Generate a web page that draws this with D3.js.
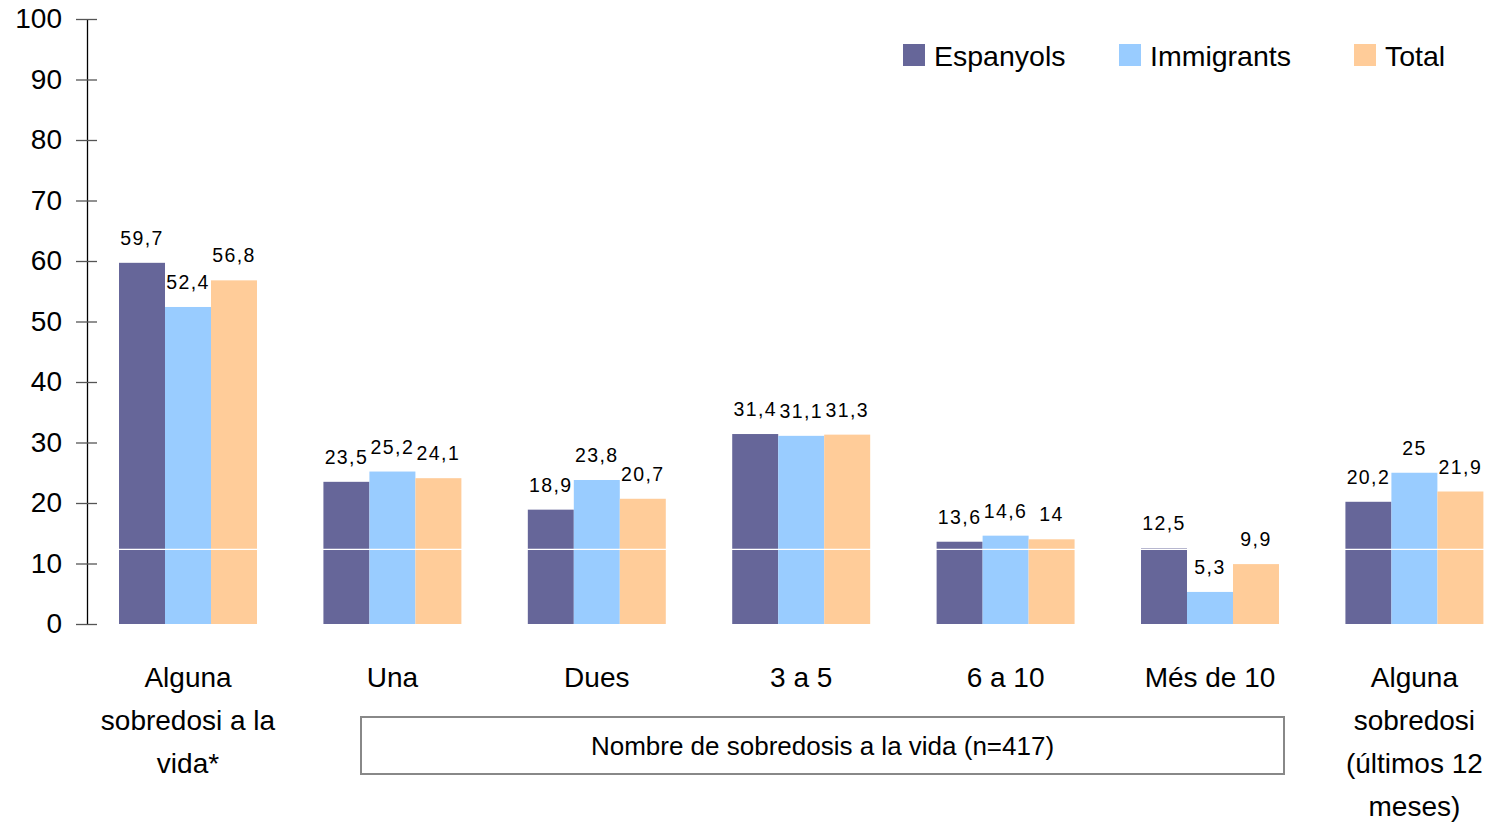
<!DOCTYPE html>
<html><head><meta charset="utf-8">
<script src="https://cdn.jsdelivr.net/npm/d3@7"></script>
<style>body{margin:0;background:#fff}svg{display:block}text{font-family:"Liberation Sans",Arial,sans-serif;fill:#000}</style>
</head><body><svg id="c" width="1499" height="824"></svg>
<script>
const categories = [
  ["Alguna","sobredosi a la","vida*"],
  ["Una"],["Dues"],["3 a 5"],["6 a 10"],["Més de 10"],
  ["Alguna","sobredosi","(últimos 12","meses)"]
];
const seriesNames = ["Espanyols","Immigrants","Total"];
const espanyols = [59.7,23.5,18.9,31.4,13.6,12.5,20.2];
const immigrants = [52.4,25.2,23.8,31.1,14.6,5.3,25];
const total = [56.8,24.1,20.7,31.3,14,9.9,21.9];
const yTicks = [0,10,20,30,40,50,60,70,80,90,100];
const boxLabel = "Nombre de sobredosis a la vida (n=417)";
const whiteLineValue = 12.35;
const colors = ["#666699","#99CCFF","#FFCC99"];
const seriesVals = [espanyols, immigrants, total];

const svg = d3.select("#c");
const y = d3.scaleLinear().domain([0,100]).range([624,19]);
const x0 = d3.scaleBand().domain(d3.range(categories.length)).range([85.8,1516.6]).paddingInner(0.325).paddingOuter(0.1625);
const x1 = d3.scaleBand().domain(d3.range(seriesNames.length)).range([0,x0.bandwidth()]);

// bars
const g = svg.append("g");
categories.forEach((c,i)=>{
  seriesVals.forEach((vals,s)=>{
    g.append("rect")
      .attr("x", x0(i)+x1(s)).attr("width", x1.bandwidth())
      .attr("y", y(vals[i])).attr("height", y(0)-y(vals[i]))
      .attr("fill", colors[s]);
  });
});
// white line artifact
svg.append("line").attr("x1",88).attr("x2",1499).attr("y1",y(whiteLineValue)).attr("y2",y(whiteLineValue)).attr("stroke","#fff").attr("stroke-width",1.2);

// value labels
const fmt = v => String(v).replace(".",",");
categories.forEach((c,i)=>{
  seriesVals.forEach((vals,s)=>{
    svg.append("text")
      .attr("x", x0(i)+x1(s)+x1.bandwidth()/2)
      .attr("y", y(vals[i])-18)
      .attr("text-anchor","middle")
      .style("font-size","19.5px").style("letter-spacing","1.4px")
      .text(fmt(vals[i]));
  });
});

// y axis
const ax = svg.append("g").attr("transform","translate(87,0)")
  .call(d3.axisLeft(y).tickValues(yTicks).tickSize(0).tickPadding(25));
ax.select(".domain").attr("stroke","#000").attr("stroke-width",1.3);
ax.selectAll(".tick text").style("font-size","28px").style("font-family","'Liberation Sans',Arial,sans-serif").attr("fill","#000");
ax.selectAll(".tick").append("line").attr("x1",-11).attr("x2",10).attr("stroke","#555").attr("stroke-width",1.3);

// category labels
categories.forEach((lines,i)=>{
  const t = svg.append("text").attr("text-anchor","middle").style("font-size","28px");
  lines.forEach((l,k)=>{
    t.append("tspan").attr("x", x0(i)+x0.bandwidth()/2).attr("y", 687+k*43).text(l);
  });
});

// box
svg.append("rect").attr("x",361).attr("y",717).attr("width",923).attr("height",57)
  .attr("fill","#fff").attr("stroke","#888").attr("stroke-width",2);
svg.append("text").attr("x",822.5).attr("y",755).attr("text-anchor","middle").style("font-size","26px").text(boxLabel);

// legend
const legX = [903,1119,1354];
seriesNames.forEach((n,s)=>{
  svg.append("rect").attr("x",legX[s]).attr("y",44).attr("width",22).attr("height",22).attr("fill",colors[s]);
  svg.append("text").attr("x",legX[s]+31).attr("y",66).style("font-size","28.5px").text(n);
});
</script></body></html>
